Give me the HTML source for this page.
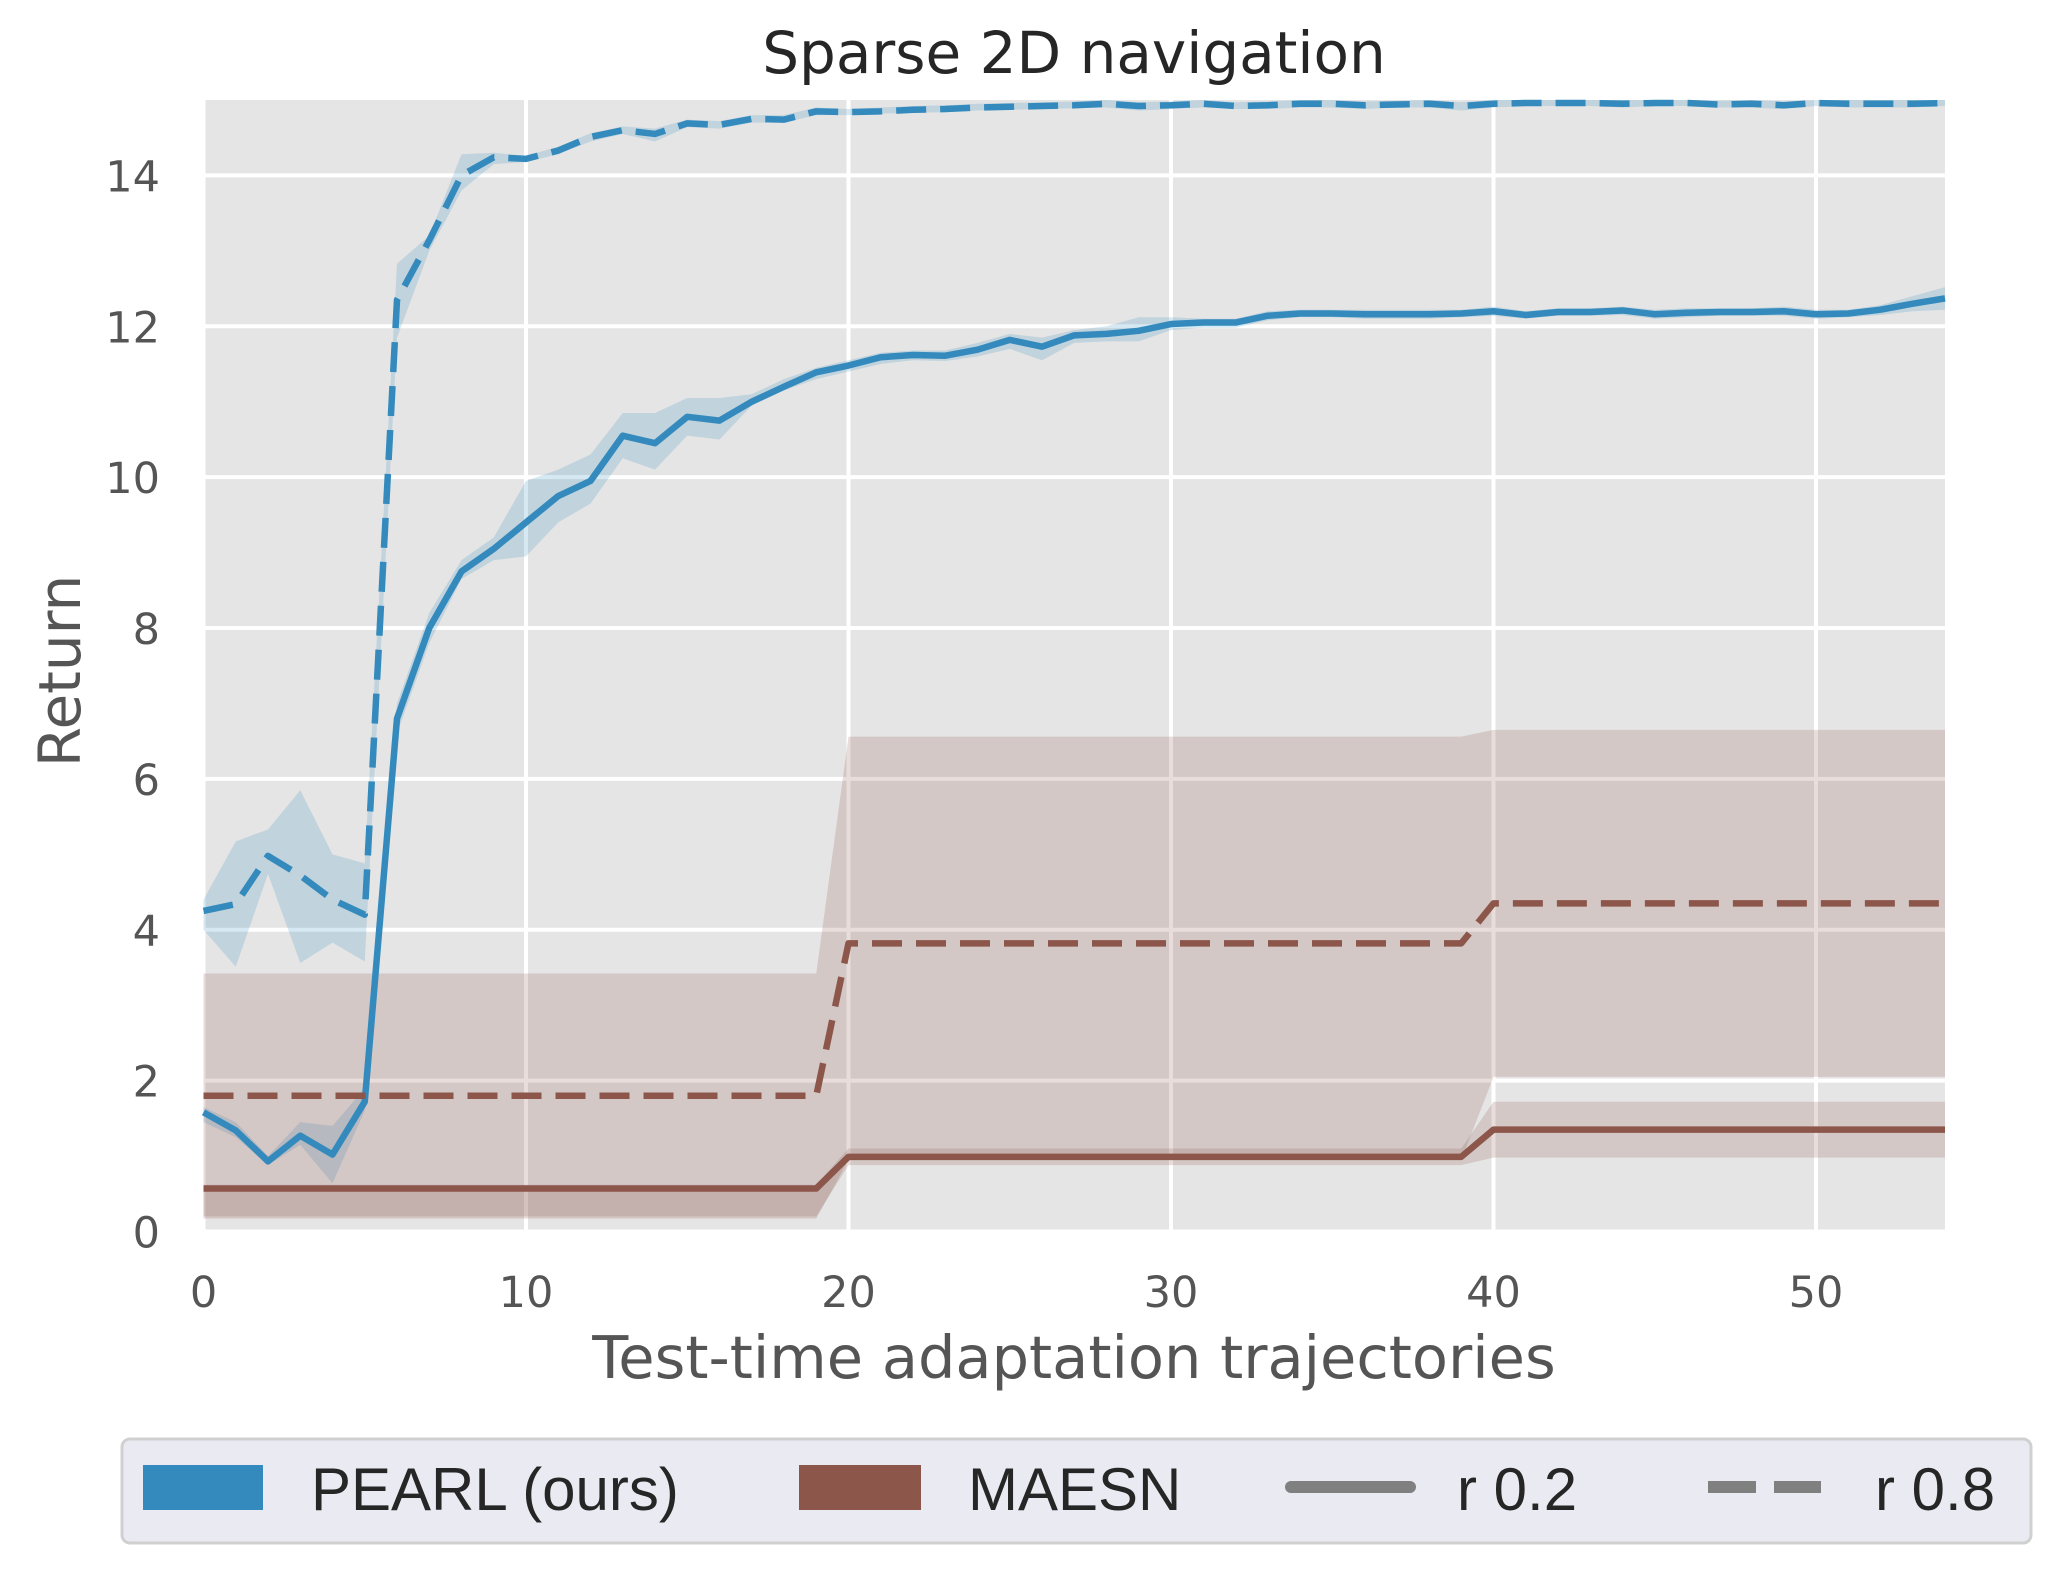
<!DOCTYPE html>
<html><head><meta charset="utf-8">
<style>
html,body{margin:0;padding:0;background:#fff;}
svg{display:block;font-family:"DejaVu Sans","Liberation Sans",sans-serif;}
</style></head>
<body>
<svg id="chart" width="2056" height="1573" viewBox="0 0 2056 1573" xmlns="http://www.w3.org/2000/svg">
<rect x="203.5" y="100" width="1741.5" height="1131.5" fill="#e5e5e5"/>
<g id="grid"></g>
<g id="bands"></g>
<g id="lines"></g>
<g id="ticks" font-size="43" fill="#555"></g>
<text x="1074" y="73" font-size="58" fill="#262626" text-anchor="middle">Sparse 2D navigation</text>
<text x="1074" y="1378" font-size="59" fill="#555" text-anchor="middle">Test-time adaptation trajectories</text>
<text x="0" y="0" font-size="58" fill="#555" text-anchor="middle" transform="translate(80,671) rotate(-90)">Return</text>
<g font-family="Liberation Sans, sans-serif">
<rect x="122" y="1439" width="1909" height="104" rx="8" fill="#eaeaf2" stroke="#d0d0d0" stroke-width="3"/>
<g>
<rect x="143" y="1465" width="120" height="45" fill="#348abd"/>
<text x="311" y="1510" font-size="60" fill="#262626">PEARL (ours)</text></g>
<g>
<rect x="799" y="1465" width="122" height="45" fill="#8c564b"/>
<text x="968" y="1510" font-size="60" fill="#262626">MAESN</text></g>
<g>
<line x1="1291" y1="1487" x2="1410" y2="1487" stroke="#808080" stroke-width="12" stroke-linecap="round"/>
<text x="1457" y="1510" font-size="60" fill="#262626">r 0.2</text></g>
<g>
<line x1="1708" y1="1487" x2="1821" y2="1487" stroke="#808080" stroke-width="12" stroke-dasharray="48,18"/>
<text x="1875" y="1510" font-size="60" fill="#262626">r 0.8</text></g>
</g>
</svg>
<script>
const xTicks = [0,10,20,30,40,50];
const yTicks = [0,2,4,6,8,10,12,14];
const xs = Array.from({length:55},(_, i)=>i);
const pearlR02 = [1.58,1.34,0.93,1.27,1.02,1.72,6.8,8.0,8.75,9.05,9.4,9.75,9.95,10.55,10.45,10.8,10.75,11.0,11.2,11.39,11.48,11.59,11.62,11.61,11.69,11.82,11.73,11.88,11.9,11.94,12.03,12.05,12.05,12.14,12.17,12.17,12.16,12.16,12.16,12.17,12.2,12.15,12.19,12.19,12.21,12.16,12.18,12.19,12.19,12.2,12.16,12.17,12.22,12.3,12.37];
const pearlR02Lo = [1.45,1.25,0.88,1.15,0.64,1.6,6.6,7.8,8.65,8.9,8.95,9.4,9.65,10.25,10.1,10.55,10.5,10.95,11.15,11.3,11.4,11.5,11.55,11.54,11.6,11.7,11.55,11.78,11.8,11.8,11.95,11.98,11.98,12.08,12.12,12.12,12.1,12.1,12.1,12.12,12.14,12.1,12.14,12.14,12.15,12.1,12.12,12.14,12.14,12.14,12.1,12.12,12.15,12.2,12.22];
const pearlR02Hi = [1.65,1.45,1.0,1.45,1.4,1.9,7.0,8.2,8.9,9.2,9.95,10.1,10.3,10.85,10.85,11.05,11.05,11.1,11.3,11.45,11.55,11.65,11.68,11.68,11.78,11.9,11.85,11.95,12.0,12.12,12.12,12.1,12.1,12.2,12.22,12.22,12.22,12.22,12.22,12.22,12.26,12.2,12.24,12.24,12.26,12.22,12.24,12.24,12.24,12.26,12.22,12.22,12.28,12.4,12.52];
const pearlR08 = [4.25,4.34,4.98,4.72,4.4,4.2,12.35,13.14,14.0,14.24,14.22,14.33,14.51,14.6,14.55,14.69,14.67,14.75,14.74,14.85,14.84,14.85,14.87,14.88,14.9,14.91,14.92,14.93,14.95,14.92,14.93,14.95,14.92,14.93,14.95,14.95,14.93,14.94,14.95,14.92,14.95,14.96,14.96,14.96,14.95,14.96,14.96,14.94,14.95,14.93,14.96,14.95,14.95,14.95,14.96];
const pearlR08Lo = [4.0,3.51,4.74,3.56,3.83,3.58,11.85,13.0,13.8,14.15,14.18,14.28,14.45,14.55,14.45,14.64,14.62,14.7,14.7,14.8,14.8,14.82,14.83,14.84,14.86,14.87,14.88,14.89,14.9,14.86,14.88,14.9,14.88,14.88,14.9,14.9,14.88,14.9,14.9,14.86,14.9,14.92,14.92,14.92,14.9,14.92,14.92,14.9,14.9,14.88,14.92,14.9,14.9,14.9,14.92];
const pearlR08Hi = [4.4,5.17,5.33,5.85,5.0,4.88,12.83,13.2,14.28,14.3,14.26,14.38,14.56,14.65,14.62,14.74,14.72,14.8,14.8,14.9,14.88,14.9,14.92,14.93,14.95,14.96,14.97,14.98,15.0,14.97,14.98,15.0,14.97,14.98,15.0,15.0,14.98,14.99,15.0,14.97,15.0,15.0,15.0,15.0,15.0,15.0,15.0,14.99,15.0,14.98,15.0,15.0,15.0,15.0,15.0];
const maesnR02 = [0.57,0.57,0.57,0.57,0.57,0.57,0.57,0.57,0.57,0.57,0.57,0.57,0.57,0.57,0.57,0.57,0.57,0.57,0.57,0.57,0.99,0.99,0.99,0.99,0.99,0.99,0.99,0.99,0.99,0.99,0.99,0.99,0.99,0.99,0.99,0.99,0.99,0.99,0.99,0.99,1.35,1.35,1.35,1.35,1.35,1.35,1.35,1.35,1.35,1.35,1.35,1.35,1.35,1.35,1.35];
const maesnR02Lo = [0.2,0.2,0.2,0.2,0.2,0.2,0.2,0.2,0.2,0.2,0.2,0.2,0.2,0.2,0.2,0.2,0.2,0.2,0.2,0.2,0.88,0.88,0.88,0.88,0.88,0.88,0.88,0.88,0.88,0.88,0.88,0.88,0.88,0.88,0.88,0.88,0.88,0.88,0.88,0.88,0.98,0.98,0.98,0.98,0.98,0.98,0.98,0.98,0.98,0.98,0.98,0.98,0.98,0.98,0.98];
const maesnR02Hi = [0.62,0.62,0.62,0.62,0.62,0.62,0.62,0.62,0.62,0.62,0.62,0.62,0.62,0.62,0.62,0.62,0.62,0.62,0.62,0.62,1.1,1.1,1.1,1.1,1.1,1.1,1.1,1.1,1.1,1.1,1.1,1.1,1.1,1.1,1.1,1.1,1.1,1.1,1.1,1.1,1.72,1.72,1.72,1.72,1.72,1.72,1.72,1.72,1.72,1.72,1.72,1.72,1.72,1.72,1.72];
const maesnR08 = [1.8,1.8,1.8,1.8,1.8,1.8,1.8,1.8,1.8,1.8,1.8,1.8,1.8,1.8,1.8,1.8,1.8,1.8,1.8,1.8,3.82,3.82,3.82,3.82,3.82,3.82,3.82,3.82,3.82,3.82,3.82,3.82,3.82,3.82,3.82,3.82,3.82,3.82,3.82,3.82,4.35,4.35,4.35,4.35,4.35,4.35,4.35,4.35,4.35,4.35,4.35,4.35,4.35,4.35,4.35];
const maesnR08Lo = [0.17,0.17,0.17,0.17,0.17,0.17,0.17,0.17,0.17,0.17,0.17,0.17,0.17,0.17,0.17,0.17,0.17,0.17,0.17,0.17,0.95,0.95,0.95,0.95,0.95,0.95,0.95,0.95,0.95,0.95,0.95,0.95,0.95,0.95,0.95,0.95,0.95,0.95,0.95,0.95,2.05,2.05,2.05,2.05,2.05,2.05,2.05,2.05,2.05,2.05,2.05,2.05,2.05,2.05,2.05];
const maesnR08Hi = [3.42,3.42,3.42,3.42,3.42,3.42,3.42,3.42,3.42,3.42,3.42,3.42,3.42,3.42,3.42,3.42,3.42,3.42,3.42,3.42,6.56,6.56,6.56,6.56,6.56,6.56,6.56,6.56,6.56,6.56,6.56,6.56,6.56,6.56,6.56,6.56,6.56,6.56,6.56,6.56,6.65,6.65,6.65,6.65,6.65,6.65,6.65,6.65,6.65,6.65,6.65,6.65,6.65,6.65,6.65];

const NS='http://www.w3.org/2000/svg';
const X0=203.5, X1=1945, Y0=1231.5, YT=100, XMAX=54, YMAX=15;
const sx = v => X0 + v/XMAX*(X1-X0);
const sy = v => Y0 - v/YMAX*(Y0-YT);
function mk(tag, attrs, parent){const e=document.createElementNS(NS,tag);for(const k in attrs)e.setAttribute(k,attrs[k]);parent.appendChild(e);return e;}
const grid=document.getElementById('grid'), bands=document.getElementById('bands'), lines=document.getElementById('lines'), ticks=document.getElementById('ticks');
xTicks.forEach(t=>{
  const l=mk('line',{x1:sx(t),x2:sx(t),y1:YT,y2:Y0,stroke:'#fff','stroke-width':4},grid);
  
  
  const tx=mk('text',{x:sx(t),y:1307,'text-anchor':'middle'},ticks);tx.textContent=t;
  
  
});
yTicks.forEach(t=>{
  const l=mk('line',{x1:X0,x2:X1,y1:sy(t),y2:sy(t),stroke:'#fff','stroke-width':4},grid);
  
  
  const tx=mk('text',{x:160,y:sy(t)+16,'text-anchor':'end'},ticks);tx.textContent=t;
  
  
});
function band(lo,hi,color,name){
  let d='M'+xs.map((x,i)=>sx(x)+','+sy(hi[i])).join('L');
  d+='L'+xs.slice().reverse().map(x=>sx(x)+','+sy(lo[x])).join('L')+'Z';
  const p=mk('path',{d:d,fill:color,'fill-opacity':0.2,stroke:'none'},bands);
  
  
}
function line(v,color,dashed,name){
  const d='M'+xs.map((x,i)=>sx(x)+','+sy(v[i])).join('L');
  const a={d:d,fill:'none',stroke:color,'stroke-width':6.5,'stroke-linejoin':'round'};
  if(dashed)a['stroke-dasharray']='30,14';
  const p=mk('path',a,lines);
  
  
}
band(pearlR02Lo,pearlR02Hi,'#348abd','band-pearl-r02');
band(pearlR08Lo,pearlR08Hi,'#348abd','band-pearl-r08');
band(maesnR02Lo,maesnR02Hi,'#8c564b','band-maesn-r02');
band(maesnR08Lo,maesnR08Hi,'#8c564b','band-maesn-r08');
line(pearlR02,'#348abd',false,'line-pearl-r02');
line(pearlR08,'#348abd',true,'line-pearl-r08');
line(maesnR02,'#8c564b',false,'line-maesn-r02');
line(maesnR08,'#8c564b',true,'line-maesn-r08');
</script>
</body></html>
